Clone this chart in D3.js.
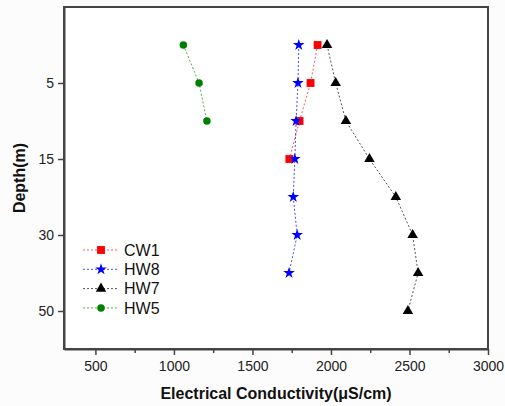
<!DOCTYPE html>
<html>
<head>
<meta charset="utf-8">
<script src="https://cdn.jsdelivr.net/npm/d3@7"></script>
<style>
  body { margin: 0; background: #fcfcfc; }
  svg { display: block; font-family: "Liberation Sans", Arial, sans-serif; }
  .axis path, .axis line { stroke: #444; }
  .axis text { fill: #222; font-size: 14px; }
</style>
</head>
<body>
<div id="chart"></div>
<script>
"use strict"

// depth levels (m), one row per level
const depthLevels = [2, 5, 10, 15, 20, 30, 40, 50];
const yTickLabels = [5, 15, 30, 50];
const xTickValues = [500, 1000, 1500, 2000, 2500, 3000];

// electrical conductivity (uS/cm) from the top level down
const cw1 = [1915, 1870, 1800, 1735];
const hw8 = [1795, 1790, 1778, 1770, 1760, 1785, 1733];
const hw7 = [1975, 2030, 2095, 2245, 2413, 2520, 2555, 2490];
const hw5 = [1060, 1160, 1210];

const seriesNames = ["CW1", "HW8", "HW7", "HW5"];
const seriesColors = ["#ff0000", "#0000ff", "#000000", "#008000"];
const seriesLines = ["#ff5a5a", "#4a4aff", "#555555", "#4caf4c"];
const seriesSymbols = [d3.symbolSquare, d3.symbolStar, d3.symbolTriangle, d3.symbolCircle];
const seriesSizes = [62, 42, 48, 44];

let series = [cw1, hw8, hw7, hw5].map((vals, i) => ({
	name: seriesNames[i],
	color: seriesColors[i],
	line: seriesLines[i],
	symbol: seriesSymbols[i],
	size: seriesSizes[i],
	points: vals.map((v, j) => ({ x: v, level: j }))
}));

let totalWidth = 505, totalHeight = 406;
let margin = { left: 64, right: 17, top: 7, bottom: 57 };
let width = totalWidth - margin.left - margin.right;
let height = totalHeight - margin.top - margin.bottom;

let svg = d3.select("#chart").append("svg")
	.attr("width", totalWidth)
	.attr("height", totalHeight);

let g = svg.append("g")
	.attr("transform", `translate(${margin.left},${margin.top})`);

let xScale = d3.scaleLinear().domain([300, 3000]).range([0, width]);
let yScale = d3.scaleLinear().domain([-1, depthLevels.length]).range([0, height]);

// frame
g.append("rect")
	.attr("width", width)
	.attr("height", height)
	.attr("fill", "#ffffff")
	.attr("stroke", "#444")
	.attr("stroke-width", 2);

// x axis, major + minor ticks
let xMinor = d3.range(750, 3000, 500);
g.append("g")
	.attr("class", "axis")
	.attr("transform", `translate(0,${height})`)
	.call(d3.axisBottom(xScale).tickValues(xMinor).tickSize(4).tickFormat(""))
	.call(s => s.select(".domain").remove())
	.selectAll("line").attr("stroke-width", 1.5);

g.append("g")
	.attr("class", "axis")
	.attr("transform", `translate(0,${height})`)
	.call(d3.axisBottom(xScale).tickValues(xTickValues).tickFormat(d3.format("d"))
		.tickSize(6).tickPadding(6).tickSizeOuter(0))
	.call(s => s.select(".domain").attr("stroke-width", 2))
	.call(s => s.selectAll("line").attr("stroke-width", 1.5));

// y axis, depth levels on an index scale
g.append("g")
	.attr("class", "axis")
	.call(d3.axisLeft(yScale)
		.tickValues(yTickLabels.map(v => depthLevels.indexOf(v)))
		.tickFormat(i => depthLevels[i])
		.tickSize(6).tickPadding(4).tickSizeOuter(0))
	.call(s => s.select(".domain").attr("stroke-width", 2))
	.call(s => s.selectAll("line").attr("stroke-width", 1.5));

// axis titles
svg.append("text")
	.attr("x", margin.left + width / 2)
	.attr("y", 399)
	.attr("text-anchor", "middle")
	.attr("font-weight", "bold")
	.attr("font-size", 16)
	.attr("fill", "#111")
	.text("Electrical Conductivity(\u03bcS/cm)");

svg.append("text")
	.attr("transform", `translate(25,${margin.top + height / 2}) rotate(-90)`)
	.attr("text-anchor", "middle")
	.attr("font-weight", "bold")
	.attr("font-size", 16)
	.attr("fill", "#111")
	.text("Depth(m)");

// series lines and markers
let line = d3.line()
	.x(d => xScale(d.x))
	.y(d => yScale(d.level));

let sg = g.selectAll(".series")
	.data(series)
	.enter().append("g")
		.attr("class", "series");

sg.append("path")
	.attr("d", d => line(d.points))
	.attr("fill", "none")
	.attr("stroke", d => d.line)
	.attr("stroke-width", 1)
	.attr("stroke-dasharray", "2,2");

sg.selectAll("path.mark")
	.data(d => d.points.map(p => ({ p: p, s: d })))
	.enter().append("path")
		.attr("class", "mark")
		.attr("transform", d => `translate(${xScale(d.p.x)},${yScale(d.p.level)})`)
		.attr("d", d => d3.symbol().type(d.s.symbol).size(d.s.size)())
		.attr("fill", d => d.s.color);

// legend
let legend = svg.append("g")
	.selectAll("g")
	.data(series)
	.enter().append("g")
		.attr("transform", (d, i) => `translate(83,${250 + i * 19.3})`);

legend.append("line")
	.attr("x1", 0).attr("x2", 35)
	.attr("stroke", d => d.line)
	.attr("stroke-width", 1)
	.attr("stroke-dasharray", "2,2");

legend.append("path")
	.attr("transform", "translate(18,0)")
	.attr("d", d => d3.symbol().type(d.symbol).size(d.size)())
	.attr("fill", d => d.color);

legend.append("text")
	.attr("x", 41)
	.attr("dy", "0.36em")
	.attr("font-size", 16)
	.attr("fill", "#111")
	.text(d => d.name);
</script>
</body>
</html>
